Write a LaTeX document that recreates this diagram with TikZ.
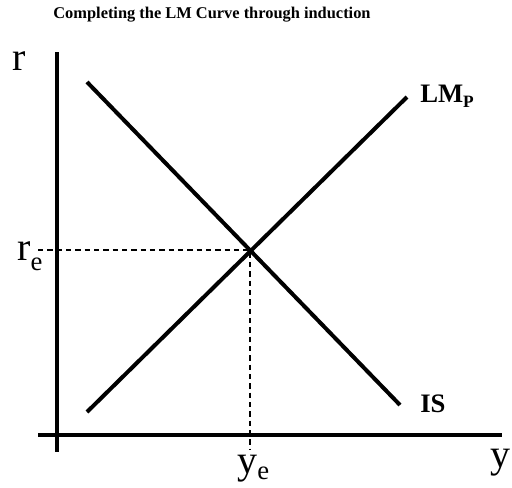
\documentclass[tikz,border=0pt]{standalone}
\usepackage{fontspec}
\setmainfont{Liberation Serif}
\newcommand{\lowsub}[2]{\raisebox{-#1}{\fontsize{20}{20}\selectfont #2}}
\begin{document}
\begin{tikzpicture}[
    x=0.75pt, y=-0.75pt,
    axis/.style={line width=3pt},
    curve/.style={line width=3pt},
    guide/.style={line width=0.8pt, dash pattern=on 4pt off 3pt},
    biglbl/.style={font=\fontsize{30}{30}\selectfont, inner sep=0pt},
    crvlbl/.style={font=\fontsize{20}{20}\selectfont\bfseries, inner sep=0pt}
]
    \useasboundingbox (0,0) rectangle (512,487);

    % --- title ---
    \node[font=\fontsize{12.3}{14}\selectfont\bfseries] (title) at (212,15) {Completing the LM Curve through induction};

    % --- axes ---
    \coordinate (ytop) at (57,52); \coordinate (ybot) at (57,452);
    \coordinate (xleft) at (38,435); \coordinate (xright) at (502,435);
    \draw[axis] (ytop) -- (ybot);
    \draw[axis] (xleft) -- (xright);

    % --- IS and LM ---
    \coordinate (is1) at (87,82); \coordinate (is2) at (400,405);
    \coordinate (lm1) at (87,412); \coordinate (lm2) at (407,97);
    \draw[curve] (is1) -- (is2);
    \draw[curve] (lm1) -- (lm2);

    % --- equilibrium ---
    \coordinate (eq) at (250,250);
    \coordinate (rmark) at (38,250); \coordinate (ymark) at (250,450);
    \draw[guide] (rmark) -- (eq) -- (ymark);

    % --- labels ---
    \node[biglbl, anchor=base] (rlbl) at (19,70) {r};
    \node[biglbl, anchor=base west] (relbl) at (17,260) {r\lowsub{7.5pt}{e}};
    \node[biglbl, anchor=base] (ylbl) at (500,467) {y};
    \node[biglbl, anchor=base west] (yelbl) at (237,473) {y\lowsub{5pt}{e}};
    \node[crvlbl, anchor=base west] (lmlbl) at (420,102) {LM\raisebox{-3.75pt}{\fontsize{13}{13}\selectfont P}};
    \node[crvlbl, anchor=base west] (islbl) at (420,412) {IS};
\end{tikzpicture}
\end{document}
